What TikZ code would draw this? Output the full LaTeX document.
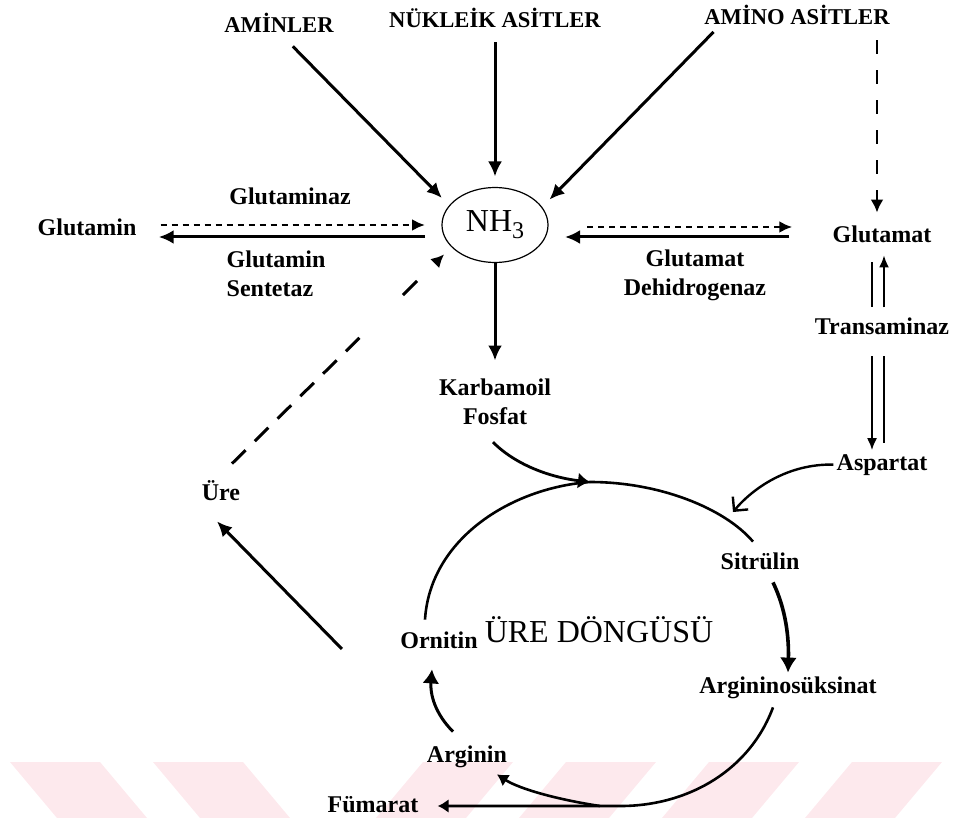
\documentclass[tikz,border=0pt]{standalone}
\usepackage{fontspec}
\setmainfont{Liberation Serif}
\usetikzlibrary{calc}
\usetikzlibrary{shapes.geometric}
\usetikzlibrary{positioning}
\usetikzlibrary{arrows.meta}
\definecolor{stripepink}{RGB}{253,233,237}

\begin{document}
\begin{tikzpicture}[x=0.5pt, y=-0.5pt]

\tikzset{
    lbl/.style={font=\bfseries\fontsize{12}{14.5}\selectfont, inner sep=1.5pt, text height=8.5pt, text depth=2.5pt},
    capslbl/.style={font=\bfseries\fontsize{11.3}{13}\selectfont, inner sep=1.5pt, text height=8pt, text depth=0pt},
    twolines/.style={font=\bfseries\fontsize{12}{14.5}\selectfont, inner sep=1.5pt, align=#1},
    myarrow/.style={-{Latex[length=7.5pt, width=7pt]}, line width=1.5pt},
    dotarrow/.style={-{Latex[length=6.5pt, width=6pt]}, line width=1.3pt, dash pattern=on 3pt off 2.5pt},
    dasharrow/.style={-{Latex[length=6.5pt, width=6.5pt]}, line width=1.4pt, dash pattern=on 7pt off 8pt},
    thinline/.style={line width=1pt},
    thinarrow/.style={-{Latex[length=6pt, width=5pt]}, line width=1pt},
    cycline/.style={line width=1.3pt},
    cycarrow/.style={-{Latex[length=6pt, width=8pt]}, line width=1.4pt},
    stripefill/.style={fill=stripepink}
}

\useasboundingbox (0,0) rectangle (953,818);

% Watermark stripes
\foreach \sx in {10,153}
  \fill[stripefill] (\sx,762) -- ++(90,0) -- ++(47,56) -- ++(-90,0) -- cycle;
\foreach \sx in {423,566,709,852}
  \fill[stripefill] (\sx,762) -- ++(90,0) -- ++(-47,56) -- ++(-90,0) -- cycle;

%%%%%%%%%%%%%%%%%%%%%%%%%%%%%%%%%%%%%%%%%%%%%%%%%%%%%%%%%
%                       Begin Picture                   %
%%%%%%%%%%%%%%%%%%%%%%%%%%%%%%%%%%%%%%%%%%%%%%%%%%%%%%%%%

% Block NH3
\node[ellipse, draw, line width=0.6pt, minimum width=53pt, minimum height=37.5pt, inner sep=0pt, outer sep=5.5pt,
      font=\fontsize{16}{18}\selectfont] (nh3) at (495,225) {NH\raisebox{-3.5pt}{\fontsize{12}{12}\selectfont 3}};

% Sources
\node[capslbl] (aminler) at (279,25) {AMİNLER};
\node[capslbl] (nukleik) at (495,20) {NÜKLEİK ASİTLER};
\node[capslbl] (aminoasit) at (797,17) {AMİNO ASİTLER};

\draw[myarrow, shorten <=7pt] ([xshift=2pt]aminler.south) -- (nh3.153);
\draw[myarrow, shorten <=5.5pt] (nukleik.south) -- (nh3.north);
\draw[myarrow, shorten <=2.5pt] ([xshift=-40pt]aminoasit.south) -- (nh3.25);

% Block Karbamoil Fosfat
\node[twolines=center, below=51pt of nh3] (karbamoil) {Karbamoil\\Fosfat};
\draw[myarrow, shorten <=-5pt, shorten >=7.5pt] (nh3.south) -- (karbamoil.north);


%%% Left Branch %%%

\node[lbl] (glutamin) at (87,230) {Glutamin};
\node[lbl] (glutaminaz) at (290,199) {Glutaminaz};
\node[twolines=left] (gsentetaz) at (276,274) {Glutamin\\Sentetaz};

\draw[dotarrow] ($(glutamin.east)+(21,-5)$) -- ($(glutamin.east -| nh3.west)+(-6,-5)$);
\draw[myarrow] ($(glutamin.east -| nh3.west)+(-6,7)$) -- ($(glutamin.east)+(19,7)$);


%%% Right Branch %%%

\node[lbl] (glutamat) at (882,237) {Glutamat};
\node[twolines=center] (gdehidro) at (695,275) {Glutamat\\Dehidrogenaz};

\draw[dasharrow, shorten <=6pt, shorten >=5pt] ([xshift=40pt]aminoasit.south) -- ([xshift=-2.5pt]glutamat.north);
\draw[dotarrow] ($(nh3.east |- glutamat.west)+(28,-10)$) -- ($(glutamat.west)+(-37,-10)$);
\draw[myarrow] ($(glutamat.west)+(-40,0)$) -- ($(nh3.east |- glutamat.west)+(6,0)$);

% Transaminaz
\node[lbl, below=31.5pt of glutamat] (trans) {Transaminaz};
\node[lbl, below=53.5pt of trans] (aspartat) {Aspartat};

\draw[thinarrow, shorten <=3.5pt, shorten >=2pt] ([xshift=1pt]trans.north) -- ([xshift=1pt]glutamat.south);
\draw[thinline, shorten <=5.5pt, shorten >=3.5pt] ([xshift=-5pt]glutamat.south) -- ([xshift=-5pt]trans.north);
\draw[thinarrow, shorten <=6.5pt] ($(trans.south)+(-10,0)$) -- ($(trans.south |- aspartat.north)+(-10,0)$);
\draw[thinline, shorten <=6.5pt, shorten >=3.5pt] ($(trans.south)+(2,0)$) -- ($(trans.south |- aspartat.north)+(2,0)$);


%%% Urea cycle %%%

\coordinate (top) at (590,482);
\coordinate (aspin) at (733,512);
\coordinate (bot) at (623,806);

\node[lbl] (sitrulin) at (760,563) {Sitrülin};
\node[lbl] (argsuks) at (788,687) {Argininosüksinat};
\node[lbl] (arginin) at (467,756) {Arginin};
\node[lbl] (fumarat) at (373,806) {Fümarat};
\node[lbl] (ornitin) at (439,642) {Ornitin};
\node[font=\fontsize{16}{18}\selectfont] (dongu) at (599,630) {ÜRE DÖNGÜSÜ};
\node[lbl] (ure) at (221,494) {Üre};

\draw[cycline] ([xshift=-7pt,yshift=4pt]ornitin.north) .. controls +(5,-80) and +(-80,6) .. (top);
\draw[cycline] (top) .. controls +(70,0) and +(-28,-33) .. ([xshift=-3.5pt,yshift=3.5pt]sitrulin.north);
\draw[cycarrow] ([xshift=-1pt,yshift=-7pt]karbamoil.south) .. controls +(25,25) and +(-35,-4) .. (top);

\draw[line width=1.2pt, -{Straight Barb[length=5pt, width=10pt]}] (aspartat.west) .. controls +(-45,-1) and +(20,-24) .. (aspin);

\draw[line width=1.8pt, -{Latex[length=7.5pt, width=8.5pt]}] ([xshift=6.5pt,yshift=-2.5pt]sitrulin.south) .. controls +(13,27) and +(1,-35) .. (argsuks.north);

\draw[cycline, -{Latex[length=5.5pt, width=7pt]}, shorten >=8pt] ([xshift=-7.5pt,yshift=-3pt]argsuks.south) .. controls +(-23,62) and +(67,-1) .. (bot) -- (fumarat.east);
\draw[cycline, -{Latex[length=5.5pt, width=7pt]}] ($(bot)+(-23,0)$) .. controls +(-40,-6) and +(23,15) .. ([xshift=15pt,yshift=-2pt]arginin.south);

\draw[line width=1.5pt, -{Latex[length=7pt, width=8.5pt]}] ([xshift=-7pt,yshift=5pt]arginin.north) .. controls +(-18,-18) and +(-2,25) .. ([xshift=-3.5pt,yshift=-6.5pt]ornitin.south);

% Ure
\draw[myarrow] ([xshift=-27.5pt,yshift=-3.5pt]ornitin.west) -- ([xshift=-2pt,yshift=-6.5pt]ure.south);
\draw[dasharrow, line width=1.5pt, dash pattern=on 9.5pt off 6.5pt on 9.5pt off 6.5pt on 9.5pt off 6.5pt on 9.5pt off 6.5pt on 9.5pt off 6.5pt on 9.5pt off 30.5pt on 10pt off 20pt]
  ($(ure.north)+(11,-16)$) -- (nh3.210);

\end{tikzpicture}
\end{document}
